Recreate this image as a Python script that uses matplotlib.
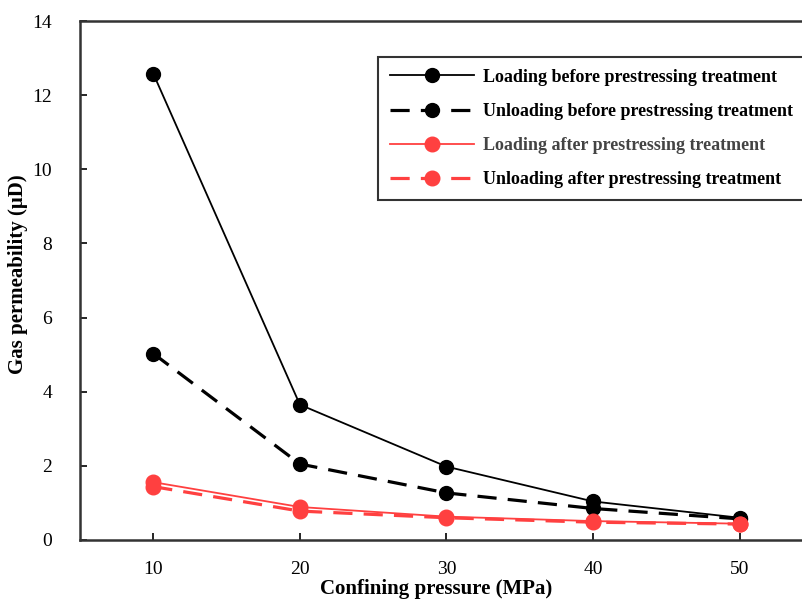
import matplotlib
matplotlib.use("Agg")
import matplotlib.pyplot as plt

# DATA
pressure = [10, 20, 30, 40, 50]
loading_before = [12.58, 3.65, 1.98, 1.04, 0.60]
unloading_before = [5.03, 2.05, 1.27, 0.85, 0.57]
loading_after = [1.56, 0.89, 0.63, 0.51, 0.44]
unloading_after = [1.44, 0.78, 0.60, 0.48, 0.43]

labels = [
    "Loading before prestressing treatment",
    "Unloading before prestressing treatment",
    "Loading after prestressing treatment",
    "Unloading after prestressing treatment",
]

plt.rcParams["font.family"] = "Liberation Serif"
red = "#ff4040"

fig = plt.figure(figsize=(8.03, 5.99), dpi=100)
ax = fig.add_axes([80 / 803, (599 - 540) / 599, (813 - 80) / 803, (540 - 21) / 599])

ax.plot(pressure, loading_before, "-", color="black", lw=1.3,
        marker="o", ms=10, label=labels[0])
ax.plot(pressure, unloading_before, color="black", lw=2.3, dashes=(6, 3.5),
        marker="o", ms=10, label=labels[1])
ax.plot(pressure, loading_after, "-", color=red, lw=1.3,
        marker="o", ms=10.5, label=labels[2])
ax.plot(pressure, unloading_after, color=red, lw=2.3, dashes=(6, 3.5),
        marker="o", ms=10.5, label=labels[3])

ax.set_xlim(5, 55)
ax.set_ylim(0, 14)
ax.set_xticks(pressure)
ax.set_yticks(range(0, 15, 2))
ax.tick_params(direction="in", length=5, width=1.2, labelsize=14)
ax.tick_params(axis="x", pad=15)
ax.tick_params(axis="y", pad=20)
for s in ax.spines.values():
    s.set_linewidth(1.8)
    s.set_color("#333333")

ax.set_xlabel("Confining pressure (MPa)", fontsize=15, fontweight="bold")
ax.set_ylabel("Gas permeability (\u03bcD)", fontsize=15, fontweight="bold")
ax.xaxis.set_label_coords(0.486, -0.076)
ax.yaxis.set_label_coords(-0.071, 0.5125)

leg = ax.legend(loc="upper left", bbox_to_anchor=(378 / 803, 1 - 57 / 599),
                bbox_transform=fig.transFigure, fancybox=False, frameon=True,
                edgecolor="black", handlelength=4.65,
                labelspacing=0.95, borderpad=0.65, handletextpad=0.5,
                borderaxespad=0, prop={"weight": "bold", "size": 13})
leg.get_frame().set_linewidth(1.5)
leg.get_texts()[2].set_color("#444444")

fig.savefig("out.png", dpi=100)
